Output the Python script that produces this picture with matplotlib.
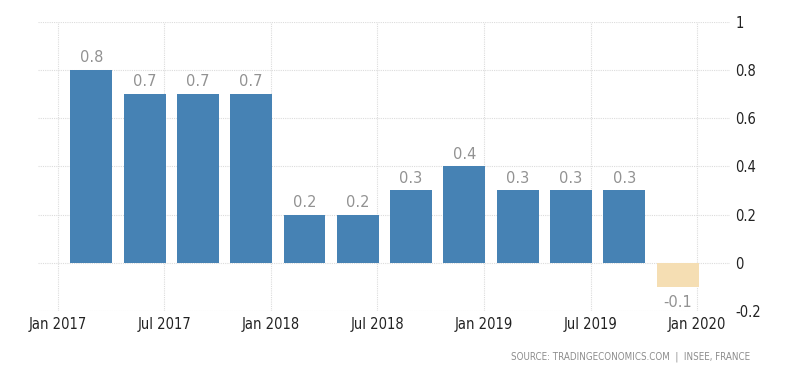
"""
France quarterly GDP growth rate, trading economics style bar chart
"""

import matplotlib
matplotlib.use("Agg")
import matplotlib.pyplot as plt
from matplotlib import font_manager

# quarters and growth values (percent, QoQ)
quarters = ["2017Q1", "2017Q2", "2017Q3", "2017Q4",
            "2018Q1", "2018Q2", "2018Q3", "2018Q4",
            "2019Q1", "2019Q2", "2019Q3", "2019Q4"]
growth = [0.8, 0.7, 0.7, 0.7, 0.2, 0.2, 0.3, 0.4, 0.3, 0.3, 0.3, -0.1]

# x axis tick labels every six months
tick_labels = ["Jan 2017", "Jul 2017", "Jan 2018", "Jul 2018",
               "Jan 2019", "Jul 2019", "Jan 2020"]
y_ticks = [-0.2, 0, 0.2, 0.4, 0.6, 0.8, 1]

names = {f.name for f in font_manager.fontManager.ttflist}
if "Liberation Sans Narrow" in names:
    FONT = ["Liberation Sans Narrow", "DejaVu Sans"]
    STRETCH = "normal"
else:
    FONT = ["DejaVu Sans"]
    STRETCH = "condensed"


def quarter_to_month(q):
    # months since Jan 2017, bar drawn a bit before quarter end like the site does
    year = int(q[:4])
    n = int(q[-1])
    return (year - 2017) * 12 + n * 3 - 1.1


fig = plt.figure(figsize=(8, 3.73), dpi=100)
ax = fig.add_axes([0.0475, 0.166, 0.865, 0.776])

x = [quarter_to_month(q) for q in quarters]
colors = ["#4682b4" if v >= 0 else "#f5deb3" for v in growth]
ax.bar(x, growth, width=2.36, color=colors, zorder=3)

for xi, v in zip(x, growth):
    if v >= 0:
        ax.text(xi, v + 0.02, "%.1f" % v, ha="center", va="bottom",
                color="#929292", fontsize=10.5, family="DejaVu Sans")
    else:
        ax.text(xi, v - 0.035, "%.1f" % v, ha="center", va="top",
                color="#929292", fontsize=10.5, family="DejaVu Sans")

ax.set_xlim(-1.1, 37.85)
ax.set_ylim(-0.2, 1.0)
ax.set_xticks([6 * i for i in range(len(tick_labels))])
ax.set_xticklabels(tick_labels, family=FONT, fontsize=10.5, color="#222222",
                   fontstretch=STRETCH)
ax.set_yticks(y_ticks)
ax.set_yticklabels(["%g" % t for t in y_ticks], family=FONT, fontsize=10.5,
                   color="#222222", fontstretch=STRETCH)
ax.yaxis.tick_right()
ax.tick_params(axis="both", length=0)
ax.tick_params(axis="y", pad=4)
ax.tick_params(axis="x", pad=4)

ax.grid(True, color="#dcdcdc", linestyle=(0, (1, 1)), linewidth=0.8, zorder=0)
for s in ax.spines.values():
    s.set_visible(False)

fig.text(0.9375, 0.043, "SOURCE: TRADINGECONOMICS.COM  |  INSEE, FRANCE",
         ha="right", va="center", fontsize=7, color="#8c8c8c", family=FONT,
         fontstretch=STRETCH)

fig.savefig("out.png", dpi=100)
